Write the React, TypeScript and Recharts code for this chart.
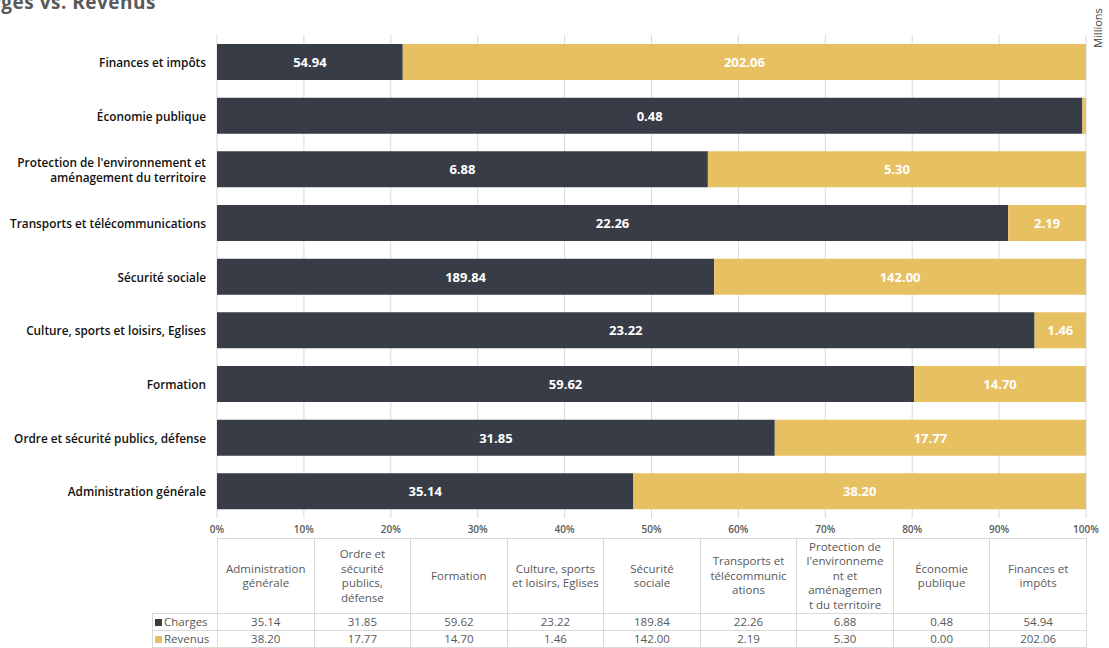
import React from 'react';
import { BarChart, Bar, XAxis, YAxis, CartesianGrid, LabelList } from 'recharts';

const categories = [
  'Administration générale',
  'Ordre et sécurité publics, défense',
  'Formation',
  'Culture, sports et loisirs, Eglises',
  'Sécurité sociale',
  'Transports et télécommunications',
  "Protection de l'environnement et aménagement du territoire",
  'Économie publique',
  'Finances et impôts',
];

const axisLabelLines = [
  ['Administration générale'],
  ['Ordre et sécurité publics, défense'],
  ['Formation'],
  ['Culture, sports et loisirs, Eglises'],
  ['Sécurité sociale'],
  ['Transports et télécommunications'],
  ["Protection de l'environnement et", 'aménagement du territoire'],
  ['Économie publique'],
  ['Finances et impôts'],
];

const tableHeaderLines = [
  ['Administration', 'générale'],
  ['Ordre et', 'sécurité', 'publics,', 'défense'],
  ['Formation'],
  ['Culture, sports', 'et loisirs, Eglises'],
  ['Sécurité', 'sociale'],
  ['Transports et', 'télécommunic', 'ations'],
  ['Protection de', "l'environneme", 'nt et', 'aménagemen', 't du territoire'],
  ['Économie', 'publique'],
  ['Finances et', 'impôts'],
];

const charges = [35.14, 31.85, 59.62, 23.22, 189.84, 22.26, 6.88, 0.48, 54.94];
const revenus = [38.2, 17.77, 14.7, 1.46, 142.0, 2.19, 5.3, 0.002, 202.06];

const xTicks = [0, 0.1, 0.2, 0.3, 0.4, 0.5, 0.6, 0.7, 0.8, 0.9, 1];

const DARK = '#373c47';
const GOLD = '#e7c062';
const FONT = '"Open Sans", "DejaVu Sans", sans-serif';

const data = categories.map((c, i) => ({ name: c, idx: i, charges: charges[i], revenus: revenus[i] }));

const CHART_W = 1109;
const CHART_H = 538;
const PLOT_LEFT = 217;
const PLOT_RIGHT = 1086;

const YTick = (props: any) => {
  const { x, y, payload } = props;
  const idx = categories.indexOf(payload.value);
  const lines = axisLabelLines[idx] || [payload.value];
  const lh = 15;
  const startY = y - ((lines.length - 1) * lh) / 2;
  const tx = x - 3;
  return (
    <text x={tx} y={startY} textAnchor="end" dominantBaseline="central" fontFamily={FONT} fontSize={11.8} fontWeight={600} fill="#111">
      {lines.map((l: string, i: number) => (
        <tspan key={i} x={tx} y={startY + i * lh}>{l}</tspan>
      ))}
    </text>
  );
};

const renderLabel = (props: any) => {
  const { x, y, width, height, value } = props;
  if (value == null || value < 0.01 || width < 20) return null;
  return (
    <text x={x + width / 2} y={y + height / 2} textAnchor="middle" dominantBaseline="central" fill="#fff" fontFamily={FONT} fontSize={13} fontWeight={700}>
      {Number(value).toFixed(2)}
    </text>
  );
};

const colW = (PLOT_RIGHT - PLOT_LEFT) / categories.length;
const border = '1px solid #d9d9d9';

export default function App() {
  return (
    <div style={{ position: 'absolute', left: 0, top: 0, width: 1109, height: 648, background: '#fff', overflow: 'hidden', fontFamily: FONT }}>
      <svg width={1109} height={60} style={{ position: 'absolute', left: 0, top: 0 }}>
        <text x={156} y={9} textAnchor="end" fontFamily={FONT} fontSize={19} fontWeight={700} letterSpacing={0.5} fill="#595959">Charges vs. Revenus</text>
        <text transform="translate(1102, 28) rotate(-90)" textAnchor="middle" fontFamily={FONT} fontSize={11} fill="#404040">Millions</text>
      </svg>
      <div style={{ position: 'absolute', left: 0, top: 0 }}>
        <BarChart
          width={CHART_W}
          height={CHART_H}
          data={data}
          layout="vertical"
          stackOffset="expand"
          margin={{ top: 35, right: CHART_W - PLOT_RIGHT, bottom: 0, left: 0 }}
        >
          <CartesianGrid horizontal={false} vertical={true} stroke="#d9d9d9" />
          <XAxis
            type="number"
            domain={[0, 1]}
            ticks={xTicks}
            tickFormatter={(v: number) => `${Math.round(v * 100)}%`}
            axisLine={false}
            tickLine={false}
            height={20}
            tick={{ fontFamily: FONT, fontSize: 10, fontWeight: 600, fill: '#595959' }}
            interval={0}
          />
          <YAxis
            type="category"
            dataKey="name"
            reversed
            width={PLOT_LEFT}
            axisLine={false}
            tickLine={false}
            tick={<YTick />}
            interval={0}
          />
          <Bar dataKey="charges" stackId="a" fill={DARK} barSize={36} isAnimationActive={false}>
            <LabelList dataKey="charges" content={renderLabel} />
          </Bar>
          <Bar dataKey="revenus" stackId="a" fill={GOLD} barSize={36} isAnimationActive={false}>
            <LabelList dataKey="revenus" content={renderLabel} />
          </Bar>
        </BarChart>
      </div>
      <table
        style={{
          position: 'absolute',
          left: 152,
          top: 538,
          borderCollapse: 'collapse',
          tableLayout: 'fixed',
          fontFamily: FONT,
          fontSize: 11.5,
          color: '#595959',
        }}
      >
        <colgroup>
          <col style={{ width: PLOT_LEFT - 152 }} />
          {categories.map((c) => (
            <col key={c} style={{ width: colW }} />
          ))}
        </colgroup>
        <tbody>
          <tr style={{ height: 75 }}>
            <td style={{ padding: 0 }}></td>
            {tableHeaderLines.map((lines, i) => (
              <td key={i} style={{ border, padding: 0, textAlign: 'center', verticalAlign: 'middle', lineHeight: '14.5px' }}>
                {lines.map((l, j) => (
                  <div key={j} style={{ whiteSpace: 'nowrap' }}>{l}</div>
                ))}
              </td>
            ))}
          </tr>
          {[
            { name: 'Charges', color: DARK, vals: charges },
            { name: 'Revenus', color: GOLD, vals: revenus },
          ].map((s) => (
            <tr key={s.name} style={{ height: 17 }}>
              <td style={{ border, padding: 0, whiteSpace: 'nowrap', lineHeight: '16px' }}>
                <span style={{ display: 'inline-block', width: 7, height: 7, background: s.color, marginLeft: 2, marginRight: 2 }}></span>
                {s.name}
              </td>
              {s.vals.map((v, i) => (
                <td key={i} style={{ border, padding: 0, textAlign: 'center', lineHeight: '16px' }}>{v.toFixed(2)}</td>
              ))}
            </tr>
          ))}
        </tbody>
      </table>
    </div>
  );
}
